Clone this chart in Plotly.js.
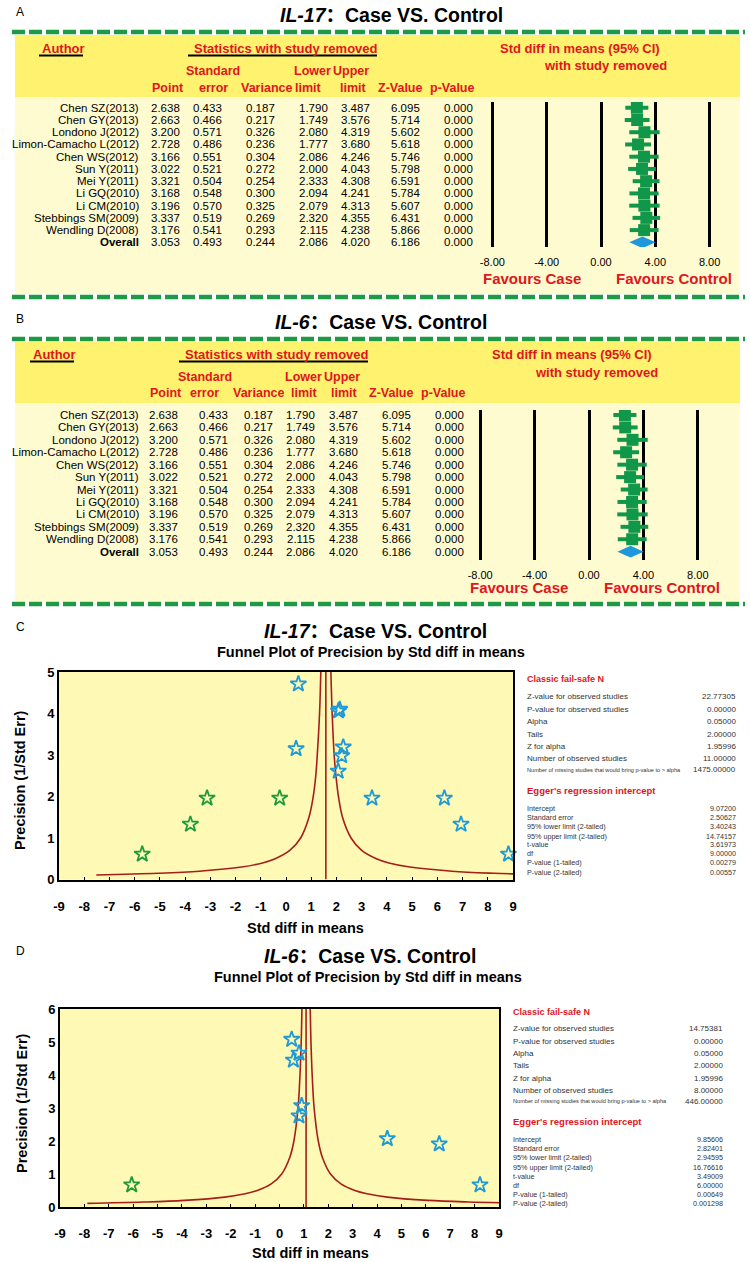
<!DOCTYPE html>
<html><head><meta charset="utf-8">
<script src="https://cdn.plot.ly/plotly-3.0.1.min.js"></script>
<style>html,body{margin:0;padding:0;background:#fff;}#chart{width:750px;height:1262px;}</style>
</head><body><div id="chart"></div>
<script>
// ---------------- DATA ----------------
const authors = ["Chen SZ(2013)","Chen GY(2013)","Londono J(2012)","Limon-Camacho L(2012)","Chen WS(2012)","Sun Y(2011)","Mei Y(2011)","Li GQ(2010)","Li CM(2010)","Stebbings SM(2009)","Wendling D(2008)"];
const pointEst = [2.638,2.663,3.200,2.728,3.166,3.022,3.321,3.168,3.196,3.337,3.176];
const stdErr   = [0.433,0.466,0.571,0.486,0.551,0.521,0.504,0.548,0.570,0.519,0.541];
const variance = [0.187,0.217,0.326,0.236,0.304,0.272,0.254,0.300,0.325,0.269,0.293];
const lowerLim = [1.790,1.749,2.080,1.777,2.086,2.000,2.333,2.094,2.079,2.320,2.115];
const upperLim = [3.487,3.576,4.319,3.680,4.246,4.043,4.308,4.241,4.313,4.355,4.238];
const zValue   = [6.095,5.714,5.602,5.618,5.746,5.798,6.591,5.784,5.607,6.431,5.866];
const pValue   = [0,0,0,0,0,0,0,0,0,0,0];
const overallLabel = "Overall";
const overallRow = [3.053,0.493,0.244,2.086,4.020,6.186,0.000]; // point, se, var, lower, upper, z, p
const forestTickVals = [-8,-4,0,4,8];
const forestTickText = ["-8.00","-4.00","0.00","4.00","8.00"];
const funnelTickVals = [-9,-8,-7,-6,-5,-4,-3,-2,-1,0,1,2,3,4,5,6,7,8,9];
const funnelTickText = ["-9","-8","-7","-6","-5","-4","-3","-2","-1","0","1","2","3","4","5","6","7","8","9"];

// funnel IL-17
const il17ObsX = [0.49,2.08,2.13,0.40,2.27,2.21,2.07,3.41,6.28,6.94,8.82];
const il17ObsY = [4.71,4.06,4.10,3.15,3.19,2.98,2.61,1.96,1.96,1.33,0.61];
const il17ImpX = [-5.70,-3.79,-3.13,-0.25];
const il17ImpY = [0.61,1.33,1.96,1.96];
const il17PooledObs = 1.98;
const il17PooledAdj = 1.58;
const il17FunnelLeftX  = [-7.52,-5.09,-3.43,-1.76,-0.93,-0.43,0.15,0.58,0.91,1.08,1.18,1.24,1.33,1.38];
const il17FunnelLeftY  = [0.11,0.15,0.2,0.3,0.4,0.5,0.7,1.0,1.5,2.0,2.5,3.0,4.0,5.0];
const il17FunnelRightX = [9.0,8.24,6.58,4.91,4.08,3.58,3.00,2.58,2.24,2.08,1.98,1.91,1.83,1.78];
const il17FunnelRightY = [0.135,0.15,0.2,0.3,0.4,0.5,0.7,1.0,1.5,2.0,2.5,3.0,4.0,5.0];

// funnel IL-6
const il6ObsX = [0.50,0.80,0.57,0.91,0.80,4.42,6.55,8.22];
const il6ObsY = [5.08,4.66,4.45,3.07,2.76,2.07,1.91,0.67];
const il6ImpX = [-6.06];
const il6ImpY = [0.67];
const il6PooledObs = 1.11;
const il6PooledAdj = 1.09;
const il6FunnelLeftX  = [-7.88,-5.58,-3.91,-2.24,-1.41,-0.91,-0.34,0.09,0.42,0.59,0.76,0.84,0.89,0.92];
const il6FunnelLeftY  = [0.11,0.15,0.2,0.3,0.4,0.5,0.7,1.0,1.5,2.0,3.0,4.0,5.0,6.0];
const il6FunnelRightX = [9.0,7.76,6.09,4.42,3.59,3.09,2.52,2.09,1.76,1.59,1.42,1.34,1.29,1.26];
const il6FunnelRightY = [0.127,0.15,0.2,0.3,0.4,0.5,0.7,1.0,1.5,2.0,3.0,4.0,5.0,6.0];

// statistics text
const failSafeLabels = ["Z-value for observed studies","P-value for observed studies","Alpha","Tails","Z for alpha","Number of observed studies","Number of missing studies that would bring p-value to > alpha"];
const il17FailSafe = ["22.77305","0.00000","0.05000","2.00000","1.95996","11.00000","1475.00000"];
const il6FailSafe  = ["14.75381","0.00000","0.05000","2.00000","1.95996","8.00000","446.00000"];
const eggerLabels = ["Intercept","Standard error","95% lower limit (2-tailed)","95% upper limit (2-tailed)","t-value","df","P-value (1-tailed)","P-value (2-tailed)"];
const il17Egger = ["9.07200","2.50627","3.40243","14.74157","3.61973","9.00000","0.00279","0.00557"];
const il6Egger  = ["9.85606","2.82401","2.94595","16.76616","3.49009","6.00000","0.00649","0.001298"];

// ---------------- HELPERS ----------------
const W=750,H=1262;
const px=x=>x/W, py=y=>1-y/H;
const FONT="Arial, 'Liberation Sans', 'Noto Sans CJK SC', sans-serif";
const RED="#E0161D", DGREEN="#1E9A45", FGREEN="#11974A", BLUE="#1E98DC";
const annotations=[], shapes=[], traces=[];
function txt(text,x,y,size,o){o=o||{};annotations.push(Object.assign({text:text,x:px(x),y:py(y),xref:'paper',yref:'paper',showarrow:false,xanchor:o.xa||'left',yanchor:'middle',font:{family:FONT,size:size,color:o.color||'#000'}},o.extra||{}));}
function rect(x0,y0,x1,y1,color){shapes.push({type:'rect',xref:'paper',yref:'paper',x0:px(x0),x1:px(x1),y0:py(y1),y1:py(y0),fillcolor:color,line:{width:0},layer:'below'});}
function hline(x0,x1,y,color,width,dash){shapes.push({type:'line',xref:'paper',yref:'paper',x0:px(x0),x1:px(x1),y0:py(y),y1:py(y),line:{color:color,width:width,dash:dash||'solid'},layer:'above'});}

// ---------------- FOREST PANELS ----------------
function forestPanel(cfg){
  const top=cfg.top;
  txt(cfg.letter,14,top-20,12);
  txt("<b><i>"+cfg.gene+"</i>：Case VS. Control</b>",cfg.titleX,top-17,19.5);
  hline(12,745,top,DGREEN,4.5,'13px,4px');
  rect(15,top+3,740,cfg.hdrBottom,"#FEF26E");
  rect(15,cfg.hdrBottom,740,cfg.bottom-3,"#FFFBD0");
  hline(12,745,cfg.bottom,DGREEN,4.5,'13px,4px');
  const h=cfg.h;
  txt("<b>Author</b>",h.author[0],h.r0,13,{color:RED});
  hline(h.author[0]-1,h.author[1]+1,h.r0+7.5,'#000',2);
  txt("<b>Statistics with study removed</b>",h.stats[0],h.r0,13,{color:RED});
  hline(h.stats[0]-4,h.stats[1]+5,h.r0+7.5,'#000',2);
  txt("<b>Std diff in means (95% CI)</b>",h.std[0],h.r0,13,{color:RED});
  txt("<b>with study removed</b>",h.with[0],h.r0+18,13,{color:RED});
  const c1=h.row1, c2=h.row2;
  txt("<b>Standard</b>",c1[0],h.r1,12.5,{color:RED});
  txt("<b>Lower</b>",c1[1],h.r1,12.5,{color:RED});
  txt("<b>Upper</b>",c1[2],h.r1,12.5,{color:RED});
  const lab2=["Point","error","Variance","limit","limit","Z-Value","p-Value"];
  lab2.forEach((l,i)=>txt("<b>"+l+"</b>",c2[i],h.r2,12.5,{color:RED}));
  // table cells
  const cols=cfg.cols, yref=cfg.yref;
  const cell=(text,x,row)=>annotations.push({text:text,x:px(x),y:row,xref:'paper',yref:yref,showarrow:false,xanchor:'right',yanchor:'middle',font:{family:FONT,size:11.5,color:'#000'}});
  authors.forEach((a,i)=>{
    cell(a,cols[0],i);
    [pointEst[i],stdErr[i],variance[i],lowerLim[i],upperLim[i],zValue[i],pValue[i]].forEach((v,j)=>cell(v.toFixed(3),cols[j+1],i));
  });
  const ov=authors.length;
  cell("<b>"+overallLabel+"</b>",cols[0],ov);
  overallRow.forEach((v,j)=>cell(v.toFixed(3),cols[j+1],ov));
  // forest marks
  const rows=authors.map((a,i)=>i);
  traces.push({type:'scatter',mode:'markers',x:pointEst,y:rows,xaxis:cfg.xa,yaxis:cfg.ya,
    marker:{symbol:'square',size:12,color:FGREEN},
    error_x:{type:'data',symmetric:false,array:upperLim.map((u,i)=>u-pointEst[i]),arrayminus:lowerLim.map((l,i)=>pointEst[i]-l),thickness:4,width:0,color:FGREEN},hoverinfo:'skip'});
  const dh=0.47;
  traces.push({type:'scatter',mode:'lines',x:[overallRow[3],overallRow[0],overallRow[4],overallRow[0],overallRow[3]],y:[ov,ov-dh,ov,ov+dh,ov],
    xaxis:cfg.xa,yaxis:cfg.ya,fill:'toself',fillcolor:BLUE,line:{width:0,color:BLUE},hoverinfo:'skip'});
  txt("<b>Favours Case</b>",cfg.fav[0],cfg.favY,15,{color:RED});
  txt("<b>Favours Control</b>",cfg.fav[1],cfg.favY,15,{color:RED});
}

forestPanel({letter:"A",gene:"IL-17",titleX:278,top:32,hdrBottom:97,bottom:297,xa:'x',ya:'y',yref:'y',
  h:{r0:48,r1:71,r2:88,author:[40,82],stats:[192,372],std:[498],with:[542],row1:[184,292,331],row2:[150,197,239,293,338,376,428]},
  cols:[141,182,224,277,330,372,422,475],fav:[481,614],favY:279});
forestPanel({letter:"B",gene:"IL-6",titleX:273,top:339,hdrBottom:403,bottom:604,xa:'x2',ya:'y2',yref:'y2',
  h:{r0:354,r1:377,r2:393,author:[31,73],stats:[183,363],std:[490],with:[533],row1:[176,283,322],row2:[148,188,231,289,329,367,419]},
  cols:[141,180,230,275,317,360,413,466],fav:[468,602],favY:587});

// ---------------- FUNNEL PANELS ----------------
const LINE="#A61E1B", SBLUE="#1E9AD8", SGREEN="#1F9B3C";
function funnelPanel(cfg){
  txt(cfg.letter,14,cfg.letterY,12);
  txt("<b><i>"+cfg.gene+"</i>：Case VS. Control</b>",cfg.titleX,cfg.titleY,19.5);
  txt("<b>Funnel Plot of Precision by Std diff in means</b>",cfg.subX,cfg.titleY+21,14.5);
  shapes.push({type:'rect',xref:cfg.xa+' domain',yref:cfg.ya+' domain',x0:0,x1:1,y0:0,y1:1,fillcolor:'#FEF9B4',line:{width:0},layer:'below'});
  const xa=cfg.xa, ya=cfg.ya;
  traces.push({type:'scatter',mode:'lines',x:cfg.lx,y:cfg.ly,xaxis:xa,yaxis:ya,line:{color:LINE,width:1.6,shape:'spline',smoothing:1},hoverinfo:'skip'});
  traces.push({type:'scatter',mode:'lines',x:cfg.rx,y:cfg.ry,xaxis:xa,yaxis:ya,line:{color:LINE,width:1.6,shape:'spline',smoothing:1},hoverinfo:'skip'});
  traces.push({type:'scatter',mode:'lines',x:[cfg.adj,cfg.adj],y:[0,cfg.ymax],xaxis:xa,yaxis:ya,line:{color:LINE,width:1.6},hoverinfo:'skip'});
  traces.push({type:'scatter',mode:'markers',x:cfg.ix,y:cfg.iy,xaxis:xa,yaxis:ya,cliponaxis:false,marker:{symbol:'star-open',size:12,color:SGREEN,line:{width:1.8,color:SGREEN}},hoverinfo:'skip'});
  traces.push({type:'scatter',mode:'markers',x:cfg.ox,y:cfg.oy,xaxis:xa,yaxis:ya,cliponaxis:false,marker:{symbol:'star-open',size:12,color:SBLUE,line:{width:1.8,color:SBLUE}},hoverinfo:'skip'});
  traces.push({type:'scatter',mode:'markers',x:[cfg.obs],y:[cfg.dObsY],xaxis:xa,yaxis:ya,cliponaxis:false,marker:{symbol:'diamond-wide',size:12,color:SBLUE},hoverinfo:'skip'});
  traces.push({type:'scatter',mode:'markers',x:[cfg.adj],y:[cfg.dAdjY],xaxis:xa,yaxis:ya,cliponaxis:false,marker:{symbol:'diamond-wide',size:12,color:SGREEN},hoverinfo:'skip'});
  txt("<b>Std diff in means</b>",cfg.xtX,cfg.xtY,14.5,{xa:'center'});
  txt("<b>Precision (1/Std Err)</b>",cfg.ytX,cfg.ytY,14.5,{xa:'center',extra:{textangle:-90}});
  // stats text
  const sx=cfg.sx, vx=cfg.vx;
  txt("<b>Classic fail-safe N</b>",sx,cfg.fsTitle,9,{color:RED});
  failSafeLabels.forEach((l,i)=>{
    const small=i===failSafeLabels.length-1;
    txt(l,sx,cfg.fsRows[i],small?5.6:8,{color:'#333'});
    txt(cfg.fs[i],vx,cfg.fsRows[i],8,{color:'#333',xa:'right'});
  });
  txt("<b>Egger's regression intercept</b>",sx,cfg.egTitle,9.5,{color:RED});
  eggerLabels.forEach((l,i)=>{
    txt(l,sx,cfg.egRows[i],7.2,{color:'#333'});
    txt(cfg.eg[i],vx,cfg.egRows[i],7.2,{color:'#333',xa:'right'});
  });
}

funnelPanel({letter:"C",letterY:627,gene:"IL-17",titleX:262,titleY:631,subX:215,xa:'x3',ya:'y3',ymax:5,
  lx:il17FunnelLeftX,ly:il17FunnelLeftY,rx:il17FunnelRightX,ry:il17FunnelRightY,adj:il17PooledAdj,obs:il17PooledObs,
  ox:il17ObsX,oy:il17ObsY,ix:il17ImpX,iy:il17ImpY,dObsY:-0.17,dAdjY:-0.37,
  xtX:305,xtY:928,ytX:20,ytY:780,
  sx:525,vx:738,fsTitle:679,fsRows:[696,709,722,734,746,758,769.5],egTitle:790,egRows:[808,817.5,826.7,836,844.5,853.3,862.3,872],
  fs:il17FailSafe,eg:il17Egger});
funnelPanel({letter:"D",letterY:951,gene:"IL-6",titleX:262,titleY:956,subX:212,xa:'x4',ya:'y4',ymax:6,
  lx:il6FunnelLeftX,ly:il6FunnelLeftY,rx:il6FunnelRightX,ry:il6FunnelRightY,adj:il6PooledAdj,obs:il6PooledObs,
  ox:il6ObsX,oy:il6ObsY,ix:il6ImpX,iy:il6ImpY,dObsY:-0.19,dAdjY:-0.45,
  xtX:310,xtY:1253,ytX:22,ytY:1103,
  sx:511,vx:725,fsTitle:1012,fsRows:[1028,1041,1053.3,1065.7,1078.3,1090.3,1101.3],egTitle:1121.7,egRows:[1139.3,1148.6,1157.7,1167,1176,1185.3,1194.3,1203.5],
  fs:il6FailSafe,eg:il6Egger});

// ---------------- AXES ----------------
function forestX(domain,range,anchor){return {domain:domain,range:range,anchor:anchor,showgrid:true,gridcolor:'#000',gridwidth:3,zeroline:false,showline:false,
  tickvals:forestTickVals,ticktext:forestTickText,ticks:'outside',ticklen:5,tickcolor:'rgba(0,0,0,0)',tickfont:{family:FONT,size:11,color:'#000'},fixedrange:true};}
function forestY(domain,range,anchor){return {domain:domain,range:range,anchor:anchor,visible:false,showgrid:false,zeroline:false,fixedrange:true};}
function funnelX(domain,anchor,standoff){return {domain:domain,range:[-9,9],anchor:anchor,tickvals:funnelTickVals,ticktext:funnelTickText,showgrid:false,zeroline:false,
  showline:true,mirror:true,linecolor:'#000',linewidth:2,ticks:'inside',ticklen:3,tickcolor:'#000',ticklabelstandoff:standoff,
  tickfont:{family:FONT,size:13,color:'#000',weight:'bold'},fixedrange:true};}
function funnelY(domain,range,anchor){return {domain:domain,range:range,anchor:anchor,tickmode:'linear',tick0:0,dtick:1,showgrid:false,zeroline:false,
  showline:true,mirror:true,linecolor:'#000',linewidth:2,ticks:'',ticklen:0,
  tickfont:{family:FONT,size:13,color:'#000',weight:'bold'},fixedrange:true};}

const layout={width:W,height:H,margin:{l:0,r:0,t:0,b:0},showlegend:false,paper_bgcolor:'#fff',plot_bgcolor:'rgba(0,0,0,0)',
  font:{family:FONT},
  xaxis: forestX([px(480),px(735)],[(480-601)/13.58,(735-601)/13.58],'y'),
  yaxis: forestY([py(247),py(102)],[11.38,-0.47],'x'),
  xaxis2: forestX([px(470),px(735)],[(470-589)/13.6,(735-589)/13.6],'y2'),
  yaxis2: forestY([py(560),py(410)],[11.67,-0.4],'x2'),
  xaxis3: funnelX([px(59),px(513)],'y3',14),
  yaxis3: funnelY([py(879.5),py(672)],[0,5],'x3'),
  xaxis4: funnelX([px(60),px(499)],'y4',13),
  yaxis4: funnelY([py(1207),py(1009)],[0,6],'x4'),
  annotations:annotations,shapes:shapes};
Plotly.newPlot('chart',traces,layout,{displayModeBar:false,staticPlot:true});
</script></body></html>
